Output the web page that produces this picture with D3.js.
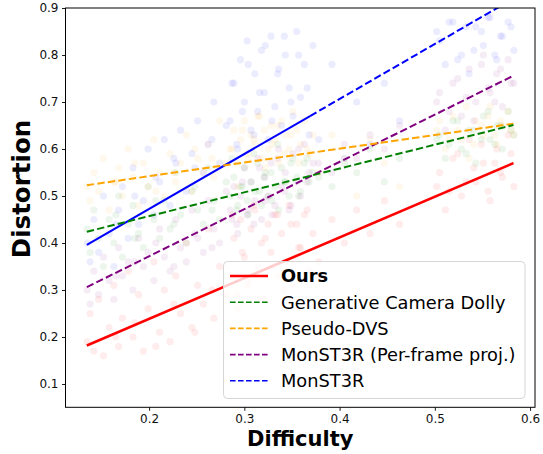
<!DOCTYPE html>
<html>
<head>
<meta charset="utf-8">
<script src="https://cdn.jsdelivr.net/npm/d3@7"></script>
<style>
  html, body { margin: 0; padding: 0; background: #fff; }
  svg { display: block; font-family: "DejaVu Sans", sans-serif; }
</style>
</head>
<body>
<svg id="chart" width="543" height="454"></svg>
<script>
// ---------------- data ----------------
const difficulty = [
  0.135, 0.138, 0.142, 0.147, 0.152, 0.158, 0.163, 0.168, 0.172, 0.178,
  0.183, 0.189, 0.194, 0.199, 0.205, 0.211, 0.216, 0.222, 0.228, 0.233,
  0.239, 0.245, 0.251, 0.257, 0.262, 0.268, 0.274, 0.281, 0.287, 0.293,
  0.298, 0.304, 0.310, 0.316, 0.322, 0.329, 0.335, 0.342, 0.349, 0.357,
  0.366, 0.378, 0.392, 0.405, 0.418, 0.432, 0.447, 0.463,
  0.502, 0.511, 0.519, 0.528, 0.536, 0.543, 0.551, 0.558, 0.565, 0.571, 0.577, 0.583,
  0.285, 0.289, 0.292, 0.296, 0.300, 0.303, 0.307, 0.311, 0.314, 0.318,
  0.321, 0.325, 0.328, 0.332, 0.336, 0.339, 0.343, 0.347, 0.351, 0.355,
  0.359, 0.363, 0.368, 0.372, 0.165, 0.185, 0.207, 0.226, 0.248, 0.266,
  0.505, 0.515, 0.524, 0.533, 0.541, 0.549, 0.556, 0.563, 0.569, 0.580
];
const oursVals = [
  0.19, 0.25, 0.17, 0.28, 0.16, 0.22, 0.31, 0.18, 0.24, 0.34,
  0.20, 0.29, 0.17, 0.26, 0.36, 0.21, 0.30, 0.19, 0.33, 0.25,
  0.40, 0.22, 0.31, 0.27, 0.43, 0.24, 0.35, 0.29, 0.46, 0.26,
  0.38, 0.32, 0.48, 0.28, 0.41, 0.35, 0.46, 0.30, 0.44, 0.39,
  0.47, 0.36, 0.45, 0.40, 0.47, 0.42, 0.49, 0.44,
  0.52, 0.47, 0.58, 0.50, 0.62, 0.53, 0.57, 0.49, 0.60, 0.54, 0.63, 0.52,
  0.33, 0.41, 0.29, 0.45, 0.37, 0.31, 0.43, 0.47, 0.35, 0.40,
  0.28, 0.44, 0.38, 0.46, 0.33, 0.42, 0.36, 0.48, 0.31, 0.44,
  0.39, 0.46, 0.34, 0.42, 0.20, 0.23, 0.18, 0.27, 0.21, 0.30,
  0.55, 0.51, 0.59, 0.53, 0.56, 0.61, 0.51, 0.57, 0.55, 0.59
];
const gcdVals = [
  0.43, 0.38, 0.47, 0.41, 0.35, 0.45, 0.40, 0.50, 0.37, 0.44,
  0.48, 0.42, 0.39, 0.52, 0.45, 0.41, 0.49, 0.43, 0.55, 0.46,
  0.40, 0.51, 0.47, 0.44, 0.56, 0.49, 0.45, 0.53, 0.58, 0.48,
  0.52, 0.46, 0.59, 0.51, 0.55, 0.49, 0.61, 0.53, 0.57, 0.50,
  0.58, 0.54, 0.52, 0.57, 0.55, 0.60, 0.53, 0.58,
  0.62, 0.58, 0.66, 0.60, 0.64, 0.57, 0.67, 0.62, 0.65, 0.60, 0.68, 0.63,
  0.50, 0.54, 0.47, 0.52, 0.56, 0.49, 0.53, 0.51, 0.57, 0.48,
  0.54, 0.50, 0.55, 0.52, 0.47, 0.56, 0.53, 0.50, 0.58, 0.54,
  0.51, 0.57, 0.53, 0.55, 0.46, 0.41, 0.49, 0.44, 0.52, 0.47,
  0.63, 0.61, 0.66, 0.59, 0.64, 0.62, 0.68, 0.61, 0.65, 0.64
];
const pdvsVals = [
  0.52, 0.49, 0.55, 0.51, 0.58, 0.47, 0.53, 0.56, 0.50, 0.60,
  0.54, 0.48, 0.57, 0.52, 0.62, 0.55, 0.50, 0.59, 0.53, 0.57,
  0.63, 0.51, 0.58, 0.55, 0.61, 0.54, 0.66, 0.57, 0.60, 0.52,
  0.64, 0.58, 0.62, 0.67, 0.56, 0.61, 0.65, 0.59, 0.63, 0.57,
  0.60, 0.55, 0.63, 0.58, 0.50, 0.62, 0.57, 0.52,
  0.64, 0.60, 0.67, 0.62, 0.58, 0.66, 0.63, 0.69, 0.61, 0.65, 0.68, 0.63,
  0.60, 0.64, 0.57, 0.62, 0.66, 0.59, 0.63, 0.61, 0.67, 0.58,
  0.64, 0.60, 0.65, 0.62, 0.57, 0.66, 0.63, 0.60, 0.68, 0.64,
  0.61, 0.66, 0.59, 0.63, 0.53, 0.57, 0.51, 0.55, 0.60, 0.58,
  0.66, 0.62, 0.64, 0.69, 0.61, 0.65, 0.67, 0.63, 0.66, 0.64
];
const monPfVals = [
  0.30, 0.27, 0.34, 0.29, 0.37, 0.32, 0.28, 0.39, 0.33, 0.36,
  0.30, 0.41, 0.35, 0.38, 0.32, 0.43, 0.37, 0.34, 0.45, 0.39,
  0.36, 0.47, 0.41, 0.38, 0.49, 0.43, 0.40, 0.51, 0.45, 0.42,
  0.53, 0.47, 0.44, 0.56, 0.49, 0.46, 0.58, 0.51, 0.48, 0.60,
  0.53, 0.57, 0.55, 0.61, 0.58, 0.63, 0.60, 0.65,
  0.70, 0.64, 0.74, 0.67, 0.77, 0.70, 0.80, 0.72, 0.76, 0.69, 0.79, 0.74,
  0.47, 0.52, 0.44, 0.50, 0.56, 0.46, 0.53, 0.49, 0.58, 0.45,
  0.54, 0.50, 0.57, 0.48, 0.60, 0.52, 0.55, 0.47, 0.59, 0.53,
  0.50, 0.61, 0.55, 0.57, 0.33, 0.36, 0.40, 0.35, 0.42, 0.39,
  0.72, 0.68, 0.75, 0.71, 0.66, 0.78, 0.73, 0.70, 0.77, 0.74
];
const monVals = [
  0.40, 0.36, 0.45, 0.38, 0.50, 0.42, 0.35, 0.47, 0.52, 0.41,
  0.56, 0.44, 0.49, 0.60, 0.46, 0.53, 0.62, 0.48, 0.57, 0.64,
  0.51, 0.59, 0.66, 0.55, 0.61, 0.70, 0.57, 0.65, 0.74, 0.60,
  0.68, 0.78, 0.63, 0.72, 0.82, 0.66, 0.76, 0.84, 0.70, 0.80,
  0.73, 0.62, 0.78, 0.58, 0.70, 0.61, 0.74, 0.66,
  0.85, 0.78, 0.87, 0.80, 0.76, 0.86, 0.82, 0.88, 0.79, 0.84, 0.87, 0.81,
  0.66, 0.74, 0.61, 0.79, 0.70, 0.83, 0.64, 0.76, 0.68, 0.81,
  0.72, 0.62, 0.84, 0.69, 0.77, 0.65, 0.80, 0.73, 0.67, 0.85,
  0.71, 0.78, 0.63, 0.82, 0.44, 0.50, 0.54, 0.58, 0.56, 0.62,
  0.83, 0.87, 0.79, 0.86, 0.81, 0.85, 0.88, 0.80, 0.84, 0.86
];

const seriesNames  = ["Ours", "Generative Camera Dolly", "Pseudo-DVS", "MonST3R (Per-frame proj.)", "MonST3R"];
const seriesColors = ["#ff0000", "#008000", "#ffa500", "#800080", "#0000ff"];
const seriesValues = [oursVals, gcdVals, pdvsVals, monPfVals, monVals];
// fitted trend lines: value at fitX[0] and fitX[1]
const fitX      = [0.1346, 0.5826];
const fitStart  = [0.182, 0.424, 0.523, 0.306, 0.396];
const fitEnd    = [0.570, 0.651, 0.654, 0.756, 0.920];
const solidUpTo = [0.5826, null, null, null, 0.369];   // solid part of line (rest dashed)

const xTicks = [0.2, 0.3, 0.4, 0.5, 0.6];
const yTicks = [0.1, 0.2, 0.3, 0.4, 0.5, 0.6, 0.7, 0.8, 0.9];
const xDomain = [0.1122, 0.6052];
const yDomain = [0.0504, 0.9];

// ---------------- layout ----------------
const svg = d3.select("#chart");
const L = 65.5, R = 535, T = 8, B = 407.3;
const x = d3.scaleLinear().domain(xDomain).range([L, R]);
const y = d3.scaleLinear().domain(yDomain).range([B, T]);

svg.append("defs").append("clipPath").attr("id", "plotclip")
  .append("rect").attr("x", L).attr("y", T).attr("width", R - L).attr("height", B - T);

const plot = svg.append("g").attr("clip-path", "url(#plotclip)");

// scatter points
seriesValues.forEach((vals, si) => {
  plot.append("g").selectAll("circle")
    .data(vals.map((v, i) => [difficulty[i], v]))
    .join("circle")
    .attr("cx", d => x(d[0]))
    .attr("cy", d => y(d[1]))
    .attr("r", 3.6)
    .attr("fill", seriesColors[si])
    .attr("fill-opacity", 0.075);
});

// trend lines
const lineGen = d3.line().x(d => x(d[0])).y(d => y(d[1]));
const valAt = (si, xv) => fitStart[si] + (fitEnd[si] - fitStart[si]) * (xv - fitX[0]) / (fitX[1] - fitX[0]);
[4, 3, 2, 1, 0].forEach(si => {
  const col = seriesColors[si];
  const pts = [[fitX[0], fitStart[si]], [fitX[1], fitEnd[si]]];
  if (si === 0) {
    plot.append("path").attr("d", lineGen(pts)).attr("fill", "none")
      .attr("stroke", col).attr("stroke-width", 2.6);
    return;
  }
  if (solidUpTo[si] !== null) {
    const xm = solidUpTo[si];
    plot.append("path").attr("d", lineGen([[fitX[0], fitStart[si]], [xm, valAt(si, xm)]]))
      .attr("fill", "none").attr("stroke", col).attr("stroke-width", 2);
    plot.append("path").attr("d", lineGen([[xm, valAt(si, xm)], [fitX[1], fitEnd[si]]]))
      .attr("fill", "none").attr("stroke", col).attr("stroke-width", 2)
      .attr("stroke-dasharray", "7.4,3.2");
  } else {
    plot.append("path").attr("d", lineGen(pts)).attr("fill", "none")
      .attr("stroke", col).attr("stroke-width", 2)
      .attr("stroke-dasharray", "7.4,3.2");
  }
});

// axes
const xAxis = svg.append("g").attr("transform", `translate(0,${B})`)
  .call(d3.axisBottom(x).tickValues(xTicks).tickFormat(d3.format(".1f")).tickSize(3.5).tickPadding(3.5));
const yAxis = svg.append("g").attr("transform", `translate(${L},0)`)
  .call(d3.axisLeft(y).tickValues(yTicks).tickFormat(d3.format(".1f")).tickSize(3.5).tickPadding(3.5));
[xAxis, yAxis].forEach(g => {
  g.select(".domain").remove();
  g.selectAll("line").attr("stroke", "#000").attr("stroke-width", 0.9);
  g.selectAll("text").attr("font-size", 12).attr("fill", "#111")
    .attr("font-family", "DejaVu Sans, sans-serif");
});

// frame
svg.append("rect").attr("x", L).attr("y", T).attr("width", R - L).attr("height", B - T)
  .attr("fill", "none").attr("stroke", "#000").attr("stroke-width", 1);

// axis labels
svg.append("text").attr("x", (L + R) / 2).attr("y", 446)
  .attr("text-anchor", "middle").attr("font-size", 21).attr("font-weight", "bold")
  .text("Difficulty");
svg.append("text").attr("transform", `translate(30,189) rotate(-90)`)
  .attr("text-anchor", "middle").attr("font-size", 24.5).attr("font-weight", "bold")
  .text("Distortion");

// legend
const lg = svg.append("g");
lg.append("rect").attr("x", 223.5).attr("y", 261.5).attr("width", 301.5).attr("height", 137)
  .attr("rx", 4).attr("fill", "#fff").attr("fill-opacity", 0.8)
  .attr("stroke", "#d6d6d6").attr("stroke-width", 1);
seriesNames.forEach((name, i) => {
  const cy = 276 + i * 26.2;
  lg.append("line").attr("x1", 230).attr("x2", 268).attr("y1", cy).attr("y2", cy)
    .attr("stroke", seriesColors[i])
    .attr("stroke-width", i === 0 ? 2.6 : 1.6)
    .attr("stroke-dasharray", i === 0 ? null : "5.6,2.4");
  lg.append("text").attr("x", 281).attr("y", cy).attr("dy", "0.36em")
    .attr("font-size", 17.8).attr("font-weight", i === 0 ? "bold" : "normal")
    .attr("fill", "#000").text(name);
});
</script>
</body>
</html>
